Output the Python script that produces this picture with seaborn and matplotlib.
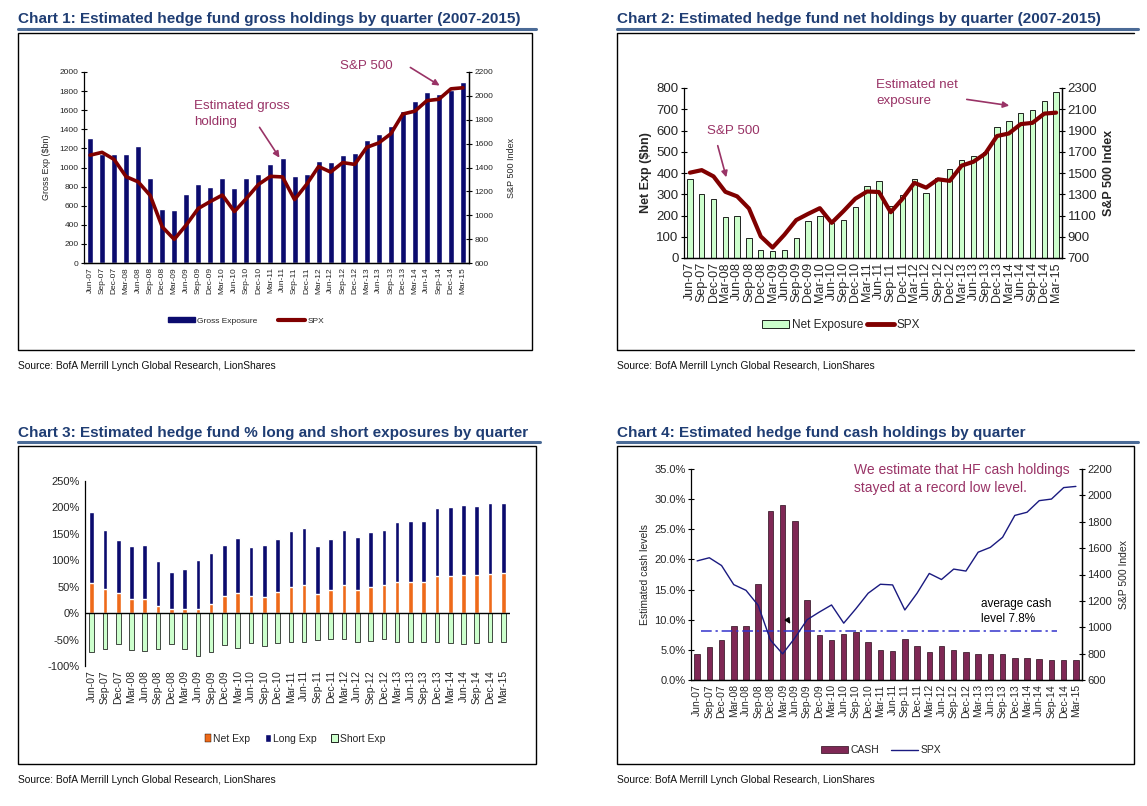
import numpy as np
import pandas as pd
import matplotlib
matplotlib.use("Agg")
import matplotlib.pyplot as plt
import seaborn as sns
from matplotlib.patches import Patch, Rectangle
from matplotlib.lines import Line2D
from matplotlib.ticker import PercentFormatter, MultipleLocator

# ---- data ----
quarters = ["Jun-07", "Sep-07", "Dec-07", "Mar-08", "Jun-08", "Sep-08", "Dec-08", "Mar-09",
            "Jun-09", "Sep-09", "Dec-09", "Mar-10", "Jun-10", "Sep-10", "Dec-10", "Mar-11",
            "Jun-11", "Sep-11", "Dec-11", "Mar-12", "Jun-12", "Sep-12", "Dec-12", "Mar-13",
            "Jun-13", "Sep-13", "Dec-13", "Mar-14", "Jun-14", "Sep-14", "Dec-14", "Mar-15"]

spx = [1503, 1527, 1468, 1323, 1280, 1166, 903, 798, 919, 1057, 1115, 1169, 1031, 1141, 1258, 1326,
       1321, 1131, 1258, 1408, 1362, 1441, 1426, 1569, 1606, 1682, 1848, 1872, 1960, 1972, 2059, 2068]

gross_exp = [1310, 1140, 1140, 1140, 1225, 890, 570, 550, 725, 830, 795, 890, 785, 890, 930, 1040,
             1100, 910, 930, 1070, 1060, 1130, 1150, 1290, 1350, 1430, 1590, 1700, 1790, 1770, 1810, 1900]

net_exposure = [370, 300, 280, 195, 200, 92, 40, 35, 40, 92, 172, 200, 165, 177, 242, 338,
                362, 245, 296, 372, 304, 376, 419, 461, 480, 499, 616, 645, 682, 696, 739, 781]

net_pct = [57, 45, 38, 27, 27, 13, 8, 8, 8, 17, 32, 38, 32, 30, 40, 50,
           53, 36, 43, 53, 43, 50, 53, 58, 58, 58, 70, 70, 72, 72, 74, 76]
long_pct = [135, 113, 100, 100, 101, 85, 69, 75, 92, 96, 96, 104, 93, 98, 100, 105,
            109, 91, 97, 105, 102, 103, 105, 114, 117, 117, 128, 130, 132, 130, 134, 133]
short_pct = [-74, -67, -59, -69, -72, -67, -59, -67, -82, -74, -60, -65, -57, -63, -57, -54,
             -55, -51, -49, -49, -55, -52, -48, -54, -55, -55, -55, -57, -59, -57, -55, -55]

cash_pct = [4.3, 5.5, 6.7, 8.9, 8.9, 16.0, 28.0, 29.0, 26.3, 13.2, 7.5, 6.7, 7.6, 8.0, 6.3, 5.0,
            4.8, 6.8, 5.7, 4.7, 5.6, 5.0, 4.7, 4.3, 4.3, 4.3, 3.7, 3.7, 3.5, 3.4, 3.3, 3.3]
avg_cash = 8.1

source = "Source: BofA Merrill Lynch Global Research, LionShares"

# ---- style ----
sns.set_theme(style="white")
plt.rcParams["font.family"] = ["Liberation Sans", "DejaVu Sans"]
plt.rcParams["axes.unicode_minus"] = False

navy = "#0b0b6e"
spx_red = "#800000"
plum = "#993366"
pale_green = "#ccffcc"
orange = "#ee6a1a"
cash_col = "#7f2855"
spx_blue = "#1a1a80"
title_col = "#1f3d73"
rule_col = "#4a6a96"

W, H = 1147, 806
n = len(quarters)
idx = np.arange(n)


def rect(x0, y0, x1, y1):
    return [x0 / W, 1 - y1 / H, (x1 - x0) / W, (y1 - y0) / H]


def fx(x):
    return x / W


def fy(y):
    return 1 - y / H


fig = plt.figure(figsize=(W / 100, H / 100), dpi=100)


def frame(x0, x1, y_title, y_rule, y_box0, y_box1, title, right_edge=True):
    fig.text(fx(x0), fy(y_title), title, color=title_col, fontsize=11, fontweight="bold",
             va="baseline", ha="left")
    fig.add_artist(Line2D([fx(x0), fx(x1 + 4)], [fy(y_rule), fy(y_rule)], color=rule_col, lw=2.2))
    if right_edge:
        fig.add_artist(Rectangle((fx(x0), fy(y_box1)), fx(x1) - fx(x0), fy(y_box0) - fy(y_box1),
                                 fill=False, ec="black", lw=1.0))
    else:
        xs = [fx(x1), fx(x0), fx(x0), fx(x1)]
        ys = [fy(y_box0), fy(y_box0), fy(y_box1), fy(y_box1)]
        fig.add_artist(Line2D(xs, ys, color="black", lw=1.0))
    fig.text(fx(x0), fy(y_box1 + 16), source, fontsize=7.4, va="center", ha="left", color="#111111")


def cat_ticks(ax, size, boundary=True):
    ax.set_xlim(-0.5, n - 0.5)
    ax.set_xticks(idx)
    ax.set_xticklabels(quarters, rotation=90, fontsize=size)
    ax.tick_params(axis="x", which="major", length=0, pad=3)
    if boundary:
        ax.set_xticks(np.arange(n + 1) - 0.5, minor=True)
        ax.tick_params(axis="x", which="minor", length=4, width=0.8, direction="inout", color="black")


def plain_axes(ax):
    for s in ax.spines.values():
        s.set_color("black")
        s.set_linewidth(0.9)
    ax.spines["top"].set_visible(False)
    ax.tick_params(axis="y", length=4, width=0.8, direction="inout", color="black", pad=2)


def arrow(x0, y0, x1, y1, ax):
    ax.annotate("", xy=(fx(x1), fy(y1)), xytext=(fx(x0), fy(y0)), xycoords="figure fraction",
                textcoords="figure fraction",
                arrowprops=dict(arrowstyle="-|>", color=plum, lw=1.2, mutation_scale=9))


# ================= Chart 1 =================
frame(18, 532, 23, 29, 33, 350,
      "Chart 1: Estimated hedge fund gross holdings by quarter (2007-2015)")
ax1 = fig.add_axes(rect(84, 72, 469, 263))
sns.barplot(x=quarters, y=gross_exp, color=navy, saturation=1, width=0.5, errorbar=None, ax=ax1)
ax1b = ax1.twinx()
sns.lineplot(x=idx, y=spx, color=spx_red, lw=2.6, ax=ax1b)
ax1.set_ylim(0, 2000)
ax1.yaxis.set_major_locator(MultipleLocator(200))
ax1b.set_ylim(600, 2200)
ax1b.yaxis.set_major_locator(MultipleLocator(200))
for a in (ax1, ax1b):
    plain_axes(a)
    a.tick_params(axis="y", labelsize=6)
ax1b.spines["left"].set_visible(False)
cat_ticks(ax1, 6)
ax1.set_xlabel("")
ax1.set_ylabel("Gross Exp (\\$bn)", fontsize=6.5, labelpad=6)
ax1b.set_ylabel("S&P 500 Index", fontsize=6.5, labelpad=10)
ax1b.set_xlabel("")
ax1.annotate("Estimated gross\nholding", xy=(fx(194), fy(100)), xycoords="figure fraction",
             fontsize=9.6, color=plum, va="top", ha="left", linespacing=1.4)
arrow(258, 125, 281, 160, ax1)
ax1.annotate("S&P 500", xy=(fx(340), fy(60)), xycoords="figure fraction",
             fontsize=9.6, color=plum, va="top", ha="left")
arrow(408, 66, 442, 87, ax1)
fig.legend(handles=[Patch(color=navy, label="Gross Exposure"),
                    Line2D([], [], color=spx_red, lw=3, label="SPX")],
           loc="center", bbox_to_anchor=(fx(246), fy(321)), ncol=2, frameon=False,
           fontsize=6, handlelength=3.2, handleheight=0.5, columnspacing=2.5, handletextpad=0.3)

# ================= Chart 2 =================
frame(617, 1134, 23, 29, 33, 350,
      "Chart 2: Estimated hedge fund net holdings by quarter (2007-2015)", right_edge=False)
ax2 = fig.add_axes(rect(684, 88, 1062, 258))
sns.barplot(x=quarters, y=net_exposure, color=pale_green, saturation=1, width=0.45,
            edgecolor="black", linewidth=0.6, errorbar=None, ax=ax2)
ax2b = ax2.twinx()
sns.lineplot(x=idx, y=spx, color=spx_red, lw=3, ax=ax2b)
ax2.set_ylim(0, 800)
ax2.yaxis.set_major_locator(MultipleLocator(100))
ax2b.set_ylim(700, 2300)
ax2b.set_yticks(np.arange(700, 2301, 200))
for a in (ax2, ax2b):
    plain_axes(a)
    a.tick_params(axis="y", labelsize=9.5)
ax2b.spines["left"].set_visible(False)
cat_ticks(ax2, 9)
ax2.set_xlabel("")
ax2b.set_xlabel("")
ax2.set_ylabel("Net Exp (\\$bn)", fontsize=9, fontweight="bold", labelpad=3)
ax2b.set_ylabel("S&P 500 Index", fontsize=9, fontweight="bold", labelpad=4)
ax2.annotate("S&P 500", xy=(fx(707), fy(125)), xycoords="figure fraction",
             fontsize=9.6, color=plum, va="top", ha="left")
arrow(717, 143, 727, 180, ax2)
ax2.annotate("Estimated net\nexposure", xy=(fx(876), fy(79)), xycoords="figure fraction",
             fontsize=9.6, color=plum, va="top", ha="left", linespacing=1.4)
arrow(964, 99, 1012, 106, ax2)
fig.legend(handles=[Patch(fc=pale_green, ec="black", lw=0.6, label="Net Exposure"),
                    Line2D([], [], color=spx_red, lw=3.5, label="SPX")],
           loc="center", bbox_to_anchor=(fx(841), fy(325)), ncol=2, frameon=False,
           fontsize=8.5, handlelength=2.3, handleheight=0.6, columnspacing=0.3, handletextpad=0.2)

# ================= Chart 3 =================
frame(18, 536, 437, 442, 446, 764,
      "Chart 3: Estimated hedge fund % long and short exposures by quarter")
ax3 = fig.add_axes(rect(85, 481, 510, 666))
top_pct = np.array(net_pct) + np.array(long_pct)
sns.barplot(x=quarters, y=top_pct, color=navy, saturation=1, width=0.35, errorbar=None, ax=ax3)
sns.barplot(x=quarters, y=net_pct, color=orange, saturation=1, width=0.35, errorbar=None, ax=ax3)
sns.barplot(x=quarters, y=short_pct, color=pale_green, saturation=1, width=0.35,
            edgecolor="black", linewidth=0.5, errorbar=None, ax=ax3)
ax3.axhline(0, color="black", lw=1.0)
ax3.set_ylim(-100, 250)
ax3.yaxis.set_major_locator(MultipleLocator(50))
ax3.yaxis.set_major_formatter(PercentFormatter(decimals=0))
plain_axes(ax3)
ax3.spines["right"].set_visible(False)
ax3.spines["bottom"].set_visible(False)
ax3.tick_params(axis="y", labelsize=8)
cat_ticks(ax3, 7.5, boundary=False)
ax3.set_xlabel("")
ax3.set_ylabel("")
fig.legend(handles=[Patch(fc=orange, ec="black", lw=0.3, label="Net Exp"),
                    Patch(fc=navy, label="Long Exp"),
                    Patch(fc=pale_green, ec="black", lw=0.6, label="Short Exp")],
           loc="center", bbox_to_anchor=(fx(295), fy(739)), ncol=3, frameon=False,
           fontsize=7.5, handlelength=0.6, handleheight=0.8, columnspacing=1.4, handletextpad=0.2)

# ================= Chart 4 =================
frame(617, 1134, 437, 442, 446, 764,
      "Chart 4: Estimated hedge fund cash holdings by quarter")
ax4 = fig.add_axes(rect(691, 469, 1082, 680))
sns.barplot(x=quarters, y=cash_pct, color=cash_col, saturation=1, width=0.45,
            edgecolor="#2a0a1a", linewidth=0.5, errorbar=None, ax=ax4)
ax4.axhline(avg_cash, xmin=0.026, xmax=0.935, color="#3333cc", lw=1.1,
            ls=(0, (7, 2.5, 1.5, 2.5)))
ax4b = ax4.twinx()
sns.lineplot(x=idx, y=spx, color=spx_blue, lw=1.0, ax=ax4b)
ax4.set_ylim(0, 35)
ax4.yaxis.set_major_locator(MultipleLocator(5))
ax4.yaxis.set_major_formatter(PercentFormatter(decimals=1))
ax4b.set_ylim(600, 2200)
ax4b.yaxis.set_major_locator(MultipleLocator(200))
for a in (ax4, ax4b):
    plain_axes(a)
    a.tick_params(axis="y", labelsize=8)
ax4b.spines["left"].set_visible(False)
cat_ticks(ax4, 7.5)
ax4.set_xlabel("")
ax4b.set_xlabel("")
ax4.set_ylabel("Estimated cash levels", fontsize=7.5, labelpad=3)
ax4b.set_ylabel("S&P 500 Index", fontsize=7.5, labelpad=5)
ax4.annotate("", xy=(7.75, 8.9), xytext=(7.35, 10.2),
             arrowprops=dict(arrowstyle="-|>", color="black", lw=1.0, mutation_scale=8))
ax4.annotate("We estimate that HF cash holdings\nstayed at a record low level.",
             xy=(fx(854), fy(463)), xycoords="figure fraction", fontsize=10, color=plum,
             va="top", ha="left", linespacing=1.35)
ax4.annotate("average cash\nlevel 7.8%", xy=(fx(981), fy(598)), xycoords="figure fraction",
             fontsize=8.5, color="black", va="top", ha="left", linespacing=1.3)
fig.legend(handles=[Patch(fc=cash_col, ec="#2a0a1a", lw=0.5, label="CASH"),
                    Line2D([], [], color=spx_blue, lw=1.0, label="SPX")],
           loc="center", bbox_to_anchor=(fx(881), fy(750)), ncol=2, frameon=False,
           fontsize=7.5, handlelength=2.6, handleheight=0.6, columnspacing=1.2, handletextpad=0.2)

fig.savefig("out.png", dpi=100)
